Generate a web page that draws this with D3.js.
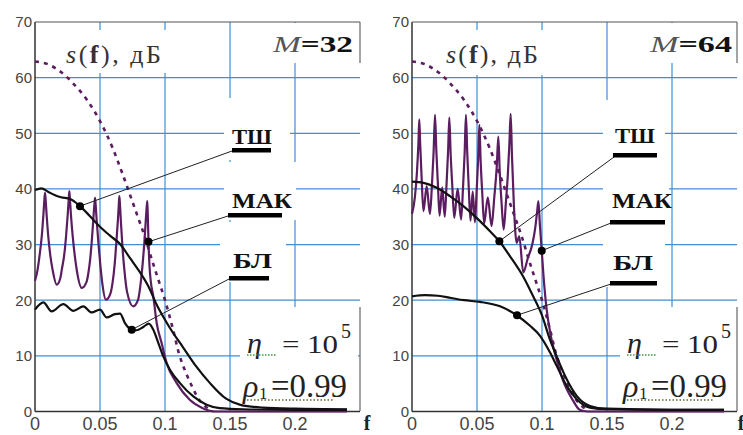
<!DOCTYPE html>
<html>
<head>
<meta charset="utf-8">
<script src="https://cdn.jsdelivr.net/npm/d3@7"></script>
<style>
  body { margin: 0; background: #fff; }
  svg { display: block; }
</style>
</head>
<body>
<div id="chart"></div>
<script>
// --- data: [f, s(f) dB] ---
var fTicks = [0, 0.05, 0.1, 0.15, 0.2];
var fTickLabels = ["0", "0.05", "0.1", "0.15", "0.2"];
var sTicks = [0, 10, 20, 30, 40, 50, 60, 70];
var gridS = [10, 20, 30, 40, 50, 60];
var gridF = [0.05, 0.1, 0.15, 0.2];

// dashed reference spectrum (same in both panels)
var trueSpec = [[0,62.9],[0.01,62.4],[0.02,61],[0.03,58.8],[0.04,56],[0.05,52.2],[0.06,47.2],
  [0.067,42.9],[0.073,39],[0.078,35.7],[0.0846,31.3],[0.09,27.2],[0.095,23.6],[0.1,20],
  [0.106,14.9],[0.111,10.2],[0.116,7],[0.121,4.4],[0.126,2.2],[0.131,0.9],[0.135,0.3]];

// M = 32
var mak32 = [[0,23.5],[0.002,25.5],[0.0035,28],[0.0052,31.5],[0.0065,35.5],[0.0072,38],[0.0077,39.3],
  [0.0082,38],[0.0089,35.5],[0.0102,31.5],[0.0118,28],[0.0135,25.5],[0.0167,22.8],
  [0.0195,24],[0.0206,25.5],[0.0224,28],[0.0239,31.5],[0.0252,35.5],[0.0259,38],[0.0264,39.6],
  [0.0269,38],[0.0276,35.5],[0.029,31.5],[0.0306,28],[0.0322,25.3],[0.036,22.2],
  [0.0395,23.2],[0.041,24.8],[0.0425,27.5],[0.0438,31],[0.045,35],[0.0457,37.2],[0.0462,38.4],
  [0.0467,37],[0.0474,34.5],[0.0487,30.5],[0.0502,26.5],[0.0518,23],[0.0546,20.1],
  [0.058,21.2],[0.0597,23.2],[0.0613,26.5],[0.0626,30.5],[0.0638,34.5],[0.0645,37.3],[0.0649,38.7],
  [0.0654,37],[0.0661,34],[0.0673,29.5],[0.0688,25.3],[0.0708,21.5],[0.0756,18.9],
  [0.0792,20],[0.081,22.5],[0.0826,26],[0.084,30],[0.0852,34.3],[0.0859,36.7],[0.0864,37.8],
  [0.0868,35],[0.0873,30.5],[0.088,26.5],[0.089,23.5],[0.091,20.7],[0.0936,15.9],
  [0.0974,12.3],[0.1013,8.7],[0.109,5.1],[0.119,2.1],[0.129,0.6],[0.139,0],[0.24,0]];
var tsh32 = [[0,39.8],[0.005,40.1],[0.01,39.5],[0.015,38.9],[0.02,38.5],[0.027,38.2],[0.0346,36.9],
  [0.0423,35.1],[0.05,33.2],[0.0577,31.6],[0.0654,30.1],[0.073,27.6],[0.0808,25],[0.0872,22.5],
  [0.0936,19.2],[0.1,16.5],[0.1038,15],[0.114,11.5],[0.124,8.1],[0.1346,5.1],[0.147,2.3],
  [0.158,1.2],[0.175,0.7],[0.2,0.5],[0.24,0.4]];
var bl32 = [[0,18.3],[0.0064,19.6],[0.0128,18],[0.0218,19.3],[0.0295,18.1],[0.0372,18.9],[0.0436,17.8],
  [0.05,18.3],[0.0551,16.9],[0.0615,17.5],[0.0654,17.6],[0.0692,15.9],[0.0744,14.7],[0.078,14.6],
  [0.0833,15.2],[0.0875,15.8],[0.091,14.7],[0.0949,12.3],[0.0987,9.9],[0.1038,7.5],[0.1115,5.1],
  [0.1218,2.7],[0.132,1.2],[0.142,0.6],[0.16,0.4],[0.2,0.3],[0.24,0.3]];

// M = 64
var mak64 = [[0,35.5],[0.0022,38.5],[0.0038,43],[0.0049,48],[0.0056,52.5],[0.0063,48],[0.0074,42],
  [0.0088,36],[0.0113,40.5],[0.0138,35.5],[0.0153,40.5],[0.0166,46.5],[0.0177,53.3],[0.0187,47],
  [0.0199,41],[0.0212,35.2],[0.0232,40.3],[0.0252,35],[0.0266,41],[0.0278,47],[0.0287,52.8],
  [0.0297,46.5],[0.031,40.5],[0.0325,34.8],[0.0351,40],[0.0378,34.5],[0.0393,40.5],[0.0405,46.5],
  [0.0415,53.3],[0.0425,46.5],[0.0437,40],[0.045,34.3],[0.0467,39.5],[0.0484,34],[0.0497,39.5],
  [0.0509,45.5],[0.0518,51.5],[0.0528,45],[0.0541,39],[0.0555,33.8],[0.0583,38.5],[0.0612,33.3],
  [0.0633,38.5],[0.0652,44],[0.0664,49.4],[0.0675,43],[0.0689,37.5],[0.0705,32.7],[0.0722,37.5],
  [0.0737,42.5],[0.0749,48],[0.0759,53.5],[0.0769,46],[0.0783,37.5],[0.0805,30.3],[0.0825,31.5],
  [0.0856,25],[0.089,27.5],[0.0925,30],[0.0948,33],[0.0962,35.8],[0.0972,37.8],[0.0984,33.5],
  [0.0998,28.9],[0.1018,22.5],[0.1036,18.3],[0.1074,12.9],[0.1113,9.3],[0.116,5.7],[0.1238,2],
  [0.129,0.3],[0.135,0],[0.24,0]];
var tsh64 = [[0,41.3],[0.0087,41.1],[0.019,40.2],[0.0292,38.7],[0.0395,36.9],[0.0497,34.8],[0.06,32.4],
  [0.0672,30.6],[0.0754,27.9],[0.0854,24.3],[0.093,20.8],[0.0998,17.4],[0.106,13],[0.1113,9.9],
  [0.119,5.8],[0.1267,2.8],[0.1369,1],[0.15,0.5],[0.2,0.3],[0.24,0.3]];
var bl64 = [[0,20.7],[0.01,20.9],[0.02,20.8],[0.03,20.4],[0.04,20],[0.0523,19.7],[0.0677,18.9],
  [0.0805,17.3],[0.0908,15.4],[0.0985,13.6],[0.1062,10.6],[0.1113,8.2],[0.119,4.6],[0.1267,2.2],
  [0.1369,0.7],[0.15,0.4],[0.2,0.3],[0.24,0.3]];

// marker points where the labels point
var dots32 = {tsh: [0.0346, 36.9], mak: [0.0873, 30.5], bl: [0.0744, 14.7]};
var dots64 = {tsh: [0.0672, 30.6], mak: [0.0998, 28.9], bl: [0.0808, 17.3]};

var W = 743, H = 435;
var PURPLE = "#5a1d60", GRID = "#3d8fd8";
var SERIF = "'Liberation Serif','Times New Roman',Times,serif";

var svg = d3.select("#chart").append("svg")
  .attr("width", W).attr("height", H)
  .style("font-family", SERIF);

var panels = [
  { x0: 35, x1: 360, M: "32", mak: mak32, tsh: tsh32, bl: bl32, dots: dots32,
    title: {x: 66, len: 95},
    mlab: {x: 273, len: 80},
    boxes: [[62,30,110,43],[265,23,95,40],[224,98,66,62],[224,162,72,58],[220,222,66,60],[240,307,118,104]],
    labels: [
      {t: "ТШ", x: 232, y: 144, len: 40, ul: [232,148,39], from: [232,151], key: "tsh"},
      {t: "МАК", x: 232, y: 208, len: 60, ul: [228,213,54], from: [228,216], key: "mak"},
      {t: "БЛ", x: 233, y: 268, len: 39, ul: [229,276,40], from: [229,279], key: "bl"}],
    eta: {x: 247, y: 353}, rho: {x: 243, y: 397},
    fx: 367 },
  { x0: 412, x1: 737, M: "64", mak: mak64, tsh: tsh64, bl: bl64, dots: dots64,
    title: {x: 446, len: 92},
    mlab: {x: 650, len: 82},
    boxes: [[440,30,112,45],[645,23,92,40],[603,100,62,63],[603,163,66,63],[603,226,62,61],[620,307,117,104]],
    labels: [
      {t: "ТШ", x: 615, y: 143, len: 40, ul: [613,153,44], from: [614,157], key: "tsh"},
      {t: "МАК", x: 612, y: 208, len: 60, ul: [610,220,55], from: [611,223], key: "mak"},
      {t: "БЛ", x: 613, y: 270, len: 40, ul: [610,281,47], from: [611,284], key: "bl"}],
    eta: {x: 627, y: 353}, rho: {x: 623, y: 397},
    fx: 741 }
];

var y = d3.scaleLinear().domain([0, 70]).range([411.5, 22]);

panels.forEach(function(p) {
  var x = d3.scaleLinear().domain([0, 0.25]).range([p.x0, p.x1]);
  var g = svg.append("g");
  var line = d3.line().x(function(d) { return x(d[0]); })
    .y(function(d) { return y(d[1]); }).curve(d3.curveMonotoneX);

  // grid
  g.selectAll(".gh").data(gridS).enter().append("line")
    .attr("x1", p.x0).attr("x2", p.x1)
    .attr("y1", function(d) { return y(d); }).attr("y2", function(d) { return y(d); })
    .attr("stroke", GRID).attr("stroke-width", 1.2);
  g.selectAll(".gv").data(gridF).enter().append("line")
    .attr("x1", function(d) { return x(d); }).attr("x2", function(d) { return x(d); })
    .attr("y1", y(70)).attr("y2", y(0))
    .attr("stroke", GRID).attr("stroke-width", 1.2);

  // white label backgrounds hide the grid, as in Mathcad
  g.selectAll(".box").data(p.boxes).enter().append("rect")
    .attr("x", function(d) { return d[0]; }).attr("y", function(d) { return d[1]; })
    .attr("width", function(d) { return d[2]; }).attr("height", function(d) { return d[3]; })
    .attr("fill", "#fff");

  // frame
  g.append("line").attr("x1", p.x0).attr("x2", p.x0).attr("y1", y(70)).attr("y2", y(0))
    .attr("stroke", "#333").attr("stroke-width", 1.5);
  g.append("line").attr("x1", p.x0).attr("x2", p.x1).attr("y1", y(0)).attr("y2", y(0))
    .attr("stroke", "#333").attr("stroke-width", 1.5);
  g.append("line").attr("x1", p.x0).attr("x2", p.x1).attr("y1", y(70)).attr("y2", y(70))
    .attr("stroke", "#555").attr("stroke-width", 1.2);
  [[22, 63], [307, 411]].forEach(function(s) {
    g.append("line").attr("x1", p.x1).attr("x2", p.x1).attr("y1", s[0]).attr("y2", s[1])
      .attr("stroke", "#666").attr("stroke-width", 1.2);
  });

  // curves
  g.append("path").datum(p.mak).attr("d", line).attr("fill", "none")
    .attr("stroke", PURPLE).attr("stroke-width", 2.2);
  g.append("path").datum(trueSpec).attr("d", line).attr("fill", "none")
    .attr("stroke", PURPLE).attr("stroke-width", 2.6).attr("stroke-dasharray", "4,5");
  [p.tsh, p.bl].forEach(function(c) {
    g.append("path").datum(c).attr("d", line).attr("fill", "none")
      .attr("stroke", "#111").attr("stroke-width", 2.2);
  });

  // tick labels
  g.selectAll(".yt").data(sTicks).enter().append("text")
    .attr("x", p.x0 - 3).attr("y", function(d) { return y(d); }).attr("dy", "0.36em")
    .attr("text-anchor", "end").attr("font-family", "'Liberation Sans Narrow','Liberation Sans',sans-serif")
    .attr("font-size", 15).attr("fill", "#444").text(function(d) { return d; });
  g.selectAll(".xt").data(fTicks).enter().append("text")
    .attr("x", function(d) { return x(d); }).attr("y", 430)
    .attr("text-anchor", "middle").attr("font-family", "'Liberation Sans Narrow','Liberation Sans',sans-serif")
    .attr("font-size", 18).attr("fill", "#444").text(function(d, i) { return fTickLabels[i]; });
  g.append("text").attr("x", p.fx).attr("y", 430).attr("text-anchor", "middle")
    .attr("font-size", 20).attr("font-weight", "bold").attr("fill", "#222").text("f");

  // title s(f), дБ
  var t = g.append("text").attr("x", p.title.x).attr("y", 63).attr("font-size", 26)
    .attr("fill", "#333").attr("textLength", p.title.len).attr("lengthAdjust", "spacing");
  t.append("tspan").attr("font-style", "italic").text("s");
  t.append("tspan").text("(");
  t.append("tspan").attr("font-weight", "bold").text("f");
  t.append("tspan").text("), дБ");

  // M = ..
  var m = g.append("text").attr("x", p.mlab.x).attr("y", 52).attr("font-size", 24)
    .attr("textLength", p.mlab.len).attr("lengthAdjust", "spacingAndGlyphs");
  m.append("tspan").attr("font-style", "italic").attr("fill", "#555").text("M");
  m.append("tspan").attr("font-weight", "bold").attr("fill", "#111").text("=" + p.M);

  // labels with leaders
  p.labels.forEach(function(l) {
    var d = p.dots[l.key];
    g.append("line").attr("x1", l.from[0]).attr("y1", l.from[1])
      .attr("x2", x(d[0])).attr("y2", y(d[1])).attr("stroke", "#222").attr("stroke-width", 1);
    g.append("circle").attr("cx", x(d[0])).attr("cy", y(d[1])).attr("r", 4).attr("fill", "#000");
    g.append("rect").attr("x", l.ul[0]).attr("y", l.ul[1]).attr("width", l.ul[2]).attr("height", 4.5)
      .attr("fill", "#000");
    g.append("text").attr("x", l.x).attr("y", l.y).attr("font-size", 22).attr("font-weight", "bold")
      .attr("fill", "#111").attr("textLength", l.len).attr("lengthAdjust", "spacingAndGlyphs").text(l.t);
  });

  // eta = 10^5
  var e = p.eta;
  g.append("text").attr("x", e.x).attr("y", e.y).attr("font-size", 30).attr("font-style", "italic")
    .attr("fill", "#222").text("η");
  g.append("line").attr("x1", e.x).attr("x2", e.x + 30).attr("y1", e.y + 2).attr("y2", e.y + 2)
    .attr("stroke", "#3a9a3a").attr("stroke-width", 1.3).attr("stroke-dasharray", "1.5,1.5");
  g.append("text").attr("x", e.x + 35).attr("y", e.y).attr("font-size", 26).attr("fill", "#222")
    .attr("textLength", 56).attr("lengthAdjust", "spacingAndGlyphs").text("= 10");
  g.append("text").attr("x", e.x + 94).attr("y", e.y - 15).attr("font-size", 20).attr("fill", "#222").text("5");

  // rho1 = 0.99
  var r = p.rho;
  g.append("line").attr("x1", r.x + 4).attr("x2", r.x + 90).attr("y1", r.y + 3).attr("y2", r.y + 3)
    .attr("stroke", "#556b2f").attr("stroke-width", 1.3).attr("stroke-dasharray", "1.5,2");
  g.append("text").attr("x", r.x).attr("y", r.y).attr("font-size", 32).attr("font-style", "italic")
    .attr("fill", "#222").text("ρ");
  g.append("text").attr("x", r.x + 16).attr("y", r.y + 2).attr("font-size", 17).attr("fill", "#222").text("1");
  g.append("text").attr("x", r.x + 28).attr("y", r.y).attr("font-size", 34).attr("fill", "#222")
    .attr("textLength", 76).attr("lengthAdjust", "spacingAndGlyphs").text("=0.99");
});
</script>
</body>
</html>
